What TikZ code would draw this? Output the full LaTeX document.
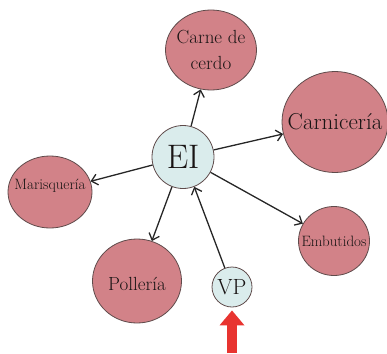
\documentclass[tikz,border=0pt]{standalone}
\usepackage{fontspec}
\usetikzlibrary{arrows.meta,shapes.geometric}
\definecolor{shopfill}{RGB}{210,130,136}
\definecolor{shopline}{RGB}{95,75,75}
\definecolor{hubfill}{RGB}{218,236,236}
\definecolor{pushred}{RGB}{232,52,48}
\definecolor{inktext}{RGB}{25,20,20}

\begin{document}
\begin{tikzpicture}[x=1pt,y=-1pt,
  shop/.style={ellipse,draw=shopline,fill=shopfill,inner sep=0pt,line width=0.8pt},
  hub/.style={ellipse,draw=shopline,fill=hubfill,inner sep=0pt,line width=0.8pt},
  tag/.style={text=inktext,align=center},
  link/.style={-{Straight Barb[length=6pt,width=11pt]},line width=1.3pt,black!85}]
\useasboundingbox (0,0) rectangle (387,353);
% centre and sales point
\node[hub,minimum width=62pt,minimum height=63pt,label={[tag,font=\fontsize{34}{36}\selectfont]center:EI}] (ei) at (183,157) {};
\node[hub,minimum width=40pt,minimum height=40pt,label={[tag,font=\fontsize{22}{24}\selectfont]center:VP}] (vp) at (232,287) {};
% shops round the centre
\node[shop,minimum width=91pt,minimum height=80pt,label={[tag,font=\fontsize{19}{26}\selectfont]center:Carne de\\cerdo}] (cerdo) at (211,50) {};
\node[shop,minimum width=106pt,minimum height=101pt,label={[tag,font=\fontsize{23}{26}\selectfont]center:Carnicería}] (carni) at (335,122) {};
\node[shop,minimum width=84pt,minimum height=72pt,label={[tag,font=\fontsize{15}{18}\selectfont,yshift=6pt]center:Marisquería}] (maris) at (50,192) {};
\node[shop,minimum width=89pt,minimum height=84pt,label={[tag,font=\fontsize{19}{22}\selectfont,yshift=-3pt]center:Pollería}] (pollo) at (137,281) {};
\node[shop,minimum width=71pt,minimum height=69pt,label={[tag,font=\fontsize{15}{18}\selectfont]center:Embutidos}] (embu) at (334,241) {};
% connectors
\draw[link] (ei) -- (cerdo);
\draw[link] (ei) -- (carni);
\draw[link] (ei) -- (maris);
\draw[link] (ei) -- (pollo);
\draw[link] (ei) -- (embu);
\draw[link] (vp) -- (ei);
% red push arrow
\coordinate (push) at (232,353);
\draw[pushred,line width=10pt,-{Triangle[length=15pt,width=24pt]},shorten >=3pt] (push) -- (vp);
\end{tikzpicture}
\end{document}
